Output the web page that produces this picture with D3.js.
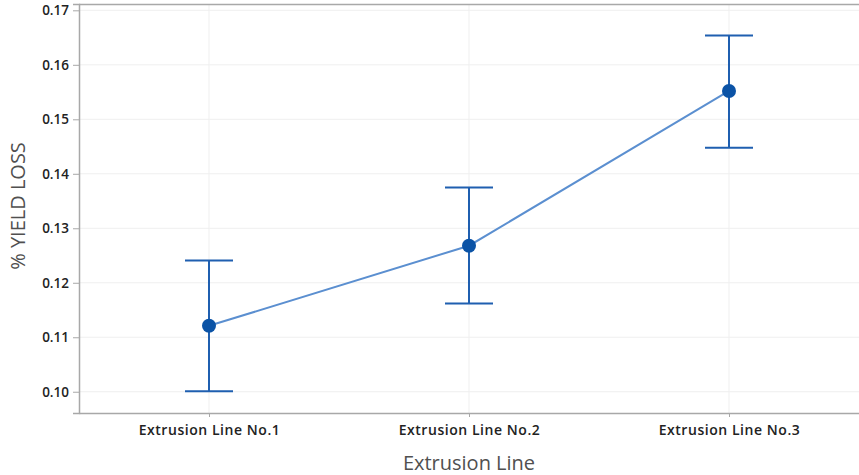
<!DOCTYPE html>
<html>
<head>
<meta charset="utf-8">
<script src="https://cdn.jsdelivr.net/npm/d3@7"></script>
<style>
  html, body { margin: 0; padding: 0; background: #fff; }
  svg { display: block; }
  .tick text { font-family: "Open Sans", "Noto Sans", sans-serif; font-weight: 600; fill: #222; }
</style>
</head>
<body>
<svg id="chart" width="859" height="475"></svg>
<script>
// Mean % yield loss per extrusion line, with interval bounds
const categories = ["Extrusion Line No.1", "Extrusion Line No.2", "Extrusion Line No.3"];
const means = [0.1121, 0.1268, 0.1552];
const lower = [0.1001, 0.1162, 0.1448];
const upper = [0.1241, 0.1375, 0.1654];
const yTicks = [0.10, 0.11, 0.12, 0.13, 0.14, 0.15, 0.16, 0.17];

const W = 859, H = 475;
const margin = { top: 4, right: 0, bottom: 62, left: 79 };
const svg = d3.select("#chart");

const x = d3.scalePoint()
  .domain(categories)
  .range([margin.left, W - margin.right])
  .padding(0.5);

const y = d3.scaleLinear()
  .domain([0.0961, 0.17116])
  .range([H - margin.bottom, margin.top]);

const plotBottom = H - margin.bottom;

// grid
const grid = svg.append("g");
grid.selectAll(".hg").data(yTicks).enter().append("line")
  .attr("x1", margin.left).attr("x2", W)
  .attr("y1", d => y(d)).attr("y2", d => y(d))
  .attr("stroke", "#efefef").attr("stroke-width", 1);
grid.selectAll(".vg").data(categories).enter().append("line")
  .attr("x1", d => x(d)).attr("x2", d => x(d))
  .attr("y1", margin.top).attr("y2", plotBottom)
  .attr("stroke", "#efefef").attr("stroke-width", 1);

// frame top
svg.append("line")
  .attr("x1", margin.left).attr("x2", W)
  .attr("y1", margin.top + 0.5).attr("y2", margin.top + 0.5)
  .attr("stroke", "#a8a8a8").attr("stroke-width", 1.5);

// axes
const yAxis = svg.append("g")
  .attr("transform", `translate(${margin.left},0)`)
  .call(d3.axisLeft(y).tickValues(yTicks).tickFormat(d3.format(".2f")).tickSize(6).tickPadding(4));
yAxis.select(".domain").attr("stroke", "#a8a8a8").attr("stroke-width", 1.5);
yAxis.selectAll(".tick line").attr("stroke", "#a8a8a8");
yAxis.selectAll(".tick text").style("font-size", "13.5px");

const xAxis = svg.append("g")
  .attr("transform", `translate(0,${plotBottom})`)
  .call(d3.axisBottom(x).tickSize(4).tickPadding(8).tickSizeOuter(0));
xAxis.select(".domain").attr("stroke", "#a8a8a8").attr("stroke-width", 1.5);
xAxis.selectAll(".tick line").attr("stroke", "#a8a8a8");
xAxis.selectAll(".tick text").style("font-size", "14px").style("letter-spacing", "0.55px");

// connecting line between means
const line = d3.line().x((d, i) => x(categories[i])).y(d => y(d));
svg.append("path")
  .datum(means)
  .attr("d", line)
  .attr("fill", "none")
  .attr("stroke", "#5b8fd0")
  .attr("stroke-width", 2);

// error bars
const capHalf = 24;
const eb = svg.append("g").attr("stroke", "#1f5fb0").attr("stroke-width", 2);
categories.forEach((c, i) => {
  eb.append("line").attr("x1", x(c)).attr("x2", x(c)).attr("y1", y(lower[i])).attr("y2", y(upper[i]));
  eb.append("line").attr("x1", x(c) - capHalf).attr("x2", x(c) + capHalf).attr("y1", y(upper[i])).attr("y2", y(upper[i]));
  eb.append("line").attr("x1", x(c) - capHalf).attr("x2", x(c) + capHalf).attr("y1", y(lower[i])).attr("y2", y(lower[i]));
});

// mean points
svg.selectAll(".pt").data(means).enter().append("circle")
  .attr("cx", (d, i) => x(categories[i]))
  .attr("cy", d => y(d))
  .attr("r", 7)
  .attr("fill", "#0b53a6");

// axis titles
svg.append("text")
  .attr("x", x(categories[1]))
  .attr("y", 470)
  .attr("text-anchor", "middle")
  .style("font-family", "'Open Sans', 'Noto Sans', sans-serif")
  .style("font-size", "20px")
  .attr("fill", "#505050")
  .text("Extrusion Line");

svg.append("text")
  .attr("transform", "translate(25,206) rotate(-90)")
  .attr("text-anchor", "middle")
  .style("font-family", "'Open Sans', 'Noto Sans', sans-serif")
  .style("font-size", "20px")
  .attr("fill", "#505050")
  .text("% YIELD LOSS");
</script>
</body>
</html>
